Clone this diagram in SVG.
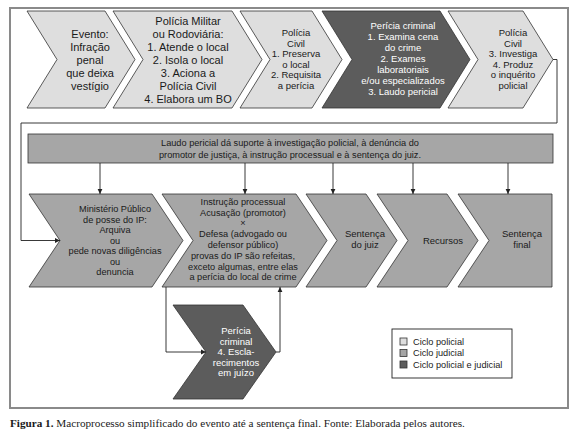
<svg xmlns="http://www.w3.org/2000/svg" width="577" height="435" viewBox="0 0 577 435">
<defs>
<style>
.light{fill:#dedede;stroke:#333;stroke-width:0.8}
.mid{fill:#a6a6a6;stroke:#333;stroke-width:0.8}
.dark{fill:#5c5c5c;stroke:#333;stroke-width:0.8}
text{font-family:"Liberation Sans",Arial,sans-serif;fill:#1a1a1a;text-anchor:middle}
.t11{font-size:11px}
.t95{font-size:9.5px}
.t9{font-size:9.2px}
.w{fill:#ffffff}
.conn{fill:none;stroke:#222;stroke-width:0.9}
.leg{text-anchor:start;font-size:9.2px}
</style>
<marker id="ah" markerUnits="userSpaceOnUse" markerWidth="6" markerHeight="6" refX="5" refY="3" orient="auto"><path d="M0,0.6 L5,3 L0,5.4 z" fill="#222"/></marker>
</defs>
<rect x="0" y="0" width="577" height="435" fill="#fff"/>
<rect x="10" y="8" width="558" height="400" fill="none" stroke="#8a8a8a" stroke-width="2"/>

<g id="evento">
<polygon class="light" points="27,11 105,11 135,59.5 105,108 27,108 57,59.5"/>
<text class="t11"><tspan x="90" y="37.5">Evento:</tspan><tspan x="90" y="50.5">Infração</tspan><tspan x="90" y="63.5">penal</tspan><tspan x="90" y="76.5">que deixa</tspan><tspan x="90" y="89.5">vestígio</tspan></text>
</g>
<g id="policia-militar">
<polygon class="light" points="113,11 232,11 262,59.5 232,108 113,108 143,59.5"/>
<text class="t11"><tspan x="188" y="24.5">Polícia Militar</tspan><tspan x="188" y="37.5">ou Rodoviária:</tspan><tspan x="188" y="50.5">1. Atende o local</tspan><tspan x="188" y="63.5">2. Isola o local</tspan><tspan x="188" y="76.5">3. Aciona a</tspan><tspan x="188" y="89.5">Polícia Civil</tspan><tspan x="188" y="102.5">4. Elabora um BO</tspan></text>
</g>
<g id="policia-civil-1">
<polygon class="light" points="240,11 312,11 342,59.5 312,108 240,108 270,59.5"/>
<text class="t95"><tspan x="296" y="36.4">Polícia</tspan><tspan x="296" y="46.9">Civil</tspan><tspan x="296" y="57.4">1. Preserva</tspan><tspan x="296" y="67.9">o local</tspan><tspan x="296" y="78.4">2. Requisita</tspan><tspan x="296" y="88.9">a perícia</tspan></text>
</g>
<g id="pericia-1">
<polygon class="dark" points="322,11 440,11 470,59.5 440,108 322,108 352,59.5"/>
<text class="t95 w"><tspan x="403" y="29.4">Perícia criminal</tspan><tspan x="403" y="40.4">1. Examina cena</tspan><tspan x="403" y="51.4">do crime</tspan><tspan x="403" y="62.4">2. Exames</tspan><tspan x="403" y="73.4">laboratoriais</tspan><tspan x="403" y="84.4">e/ou especializados</tspan><tspan x="403" y="95.4">3. Laudo pericial</tspan></text>
</g>
<g id="policia-civil-2">
<polygon class="light" points="448,11 523,11 553,59.5 523,108 448,108 478,59.5"/>
<text class="t95"><tspan x="513" y="36.4">Polícia</tspan><tspan x="513" y="46.9">Civil</tspan><tspan x="513" y="57.4">3. Investiga</tspan><tspan x="513" y="67.9">4. Produz</tspan><tspan x="513" y="78.4">o inquérito</tspan><tspan x="513" y="88.9">policial</tspan></text>
</g>

<g id="laudo">
<rect class="mid" x="28" y="134" width="525" height="29"/>
<text class="t9"><tspan x="290" y="146">Laudo pericial dá suporte à investigação policial, à denúncia do</tspan><tspan x="290" y="157.5">promotor de justiça, à instrução processual e à sentença do juiz.</tspan></text>
</g>

<g id="ministerio">
<polygon class="mid" points="29,194 152,194 183,240.5 152,287 29,287 60,240.5"/>
<text class="t9"><tspan x="115" y="212.2">Ministério Público</tspan><tspan x="115" y="222.7">de posse do IP:</tspan><tspan x="115" y="233.2">Arquiva</tspan><tspan x="115" y="243.7">ou</tspan><tspan x="115" y="254.2">pede novas diligências</tspan><tspan x="115" y="264.7">ou</tspan><tspan x="115" y="275.2">denuncia</tspan></text>
</g>
<g id="instrucao">
<polygon class="mid" points="162,194 296,194 327,240.5 296,287 162,287 193,240.5"/>
<text class="t9"><tspan x="243" y="204.7">Instrução processual</tspan><tspan x="243" y="215.5">Acusação (promotor)</tspan><tspan x="243" y="226.3">×</tspan><tspan x="243" y="237.1">Defesa (advogado ou</tspan><tspan x="243" y="247.9">defensor público)</tspan><tspan x="243" y="258.7">provas do IP são refeitas,</tspan><tspan x="243" y="269.5">exceto algumas, entre elas</tspan><tspan x="243" y="280.3">a perícia do local de crime</tspan></text>
</g>
<g id="sentenca-juiz">
<polygon class="mid" points="306,194 366,194 397,240.5 366,287 306,287 337,240.5"/>
<text class="t95"><tspan x="365" y="236.5">Sentença</tspan><tspan x="365" y="247.5">do juiz</tspan></text>
</g>
<g id="recursos">
<polygon class="mid" points="377,194 447,194 478,240.5 447,287 377,287 408,240.5"/>
<text class="t95" x="443" y="243.5">Recursos</text>
</g>
<g id="sentenca-final">
<polygon class="mid" points="458,194 552,194 552,287 458,287 489,240.5"/>
<text class="t95"><tspan x="522" y="236.5">Sentença</tspan><tspan x="522" y="247.5">final</tspan></text>
</g>
<g id="pericia-2">
<polygon class="dark" points="173,305 243,305 276,352 243,399 173,399 206,352"/>
<text class="t95 w"><tspan x="236" y="334.4">Perícia</tspan><tspan x="236" y="344.9">criminal</tspan><tspan x="236" y="355.4">4. Escla-</tspan><tspan x="236" y="365.9">recimentos</tspan><tspan x="236" y="376.4">em juízo</tspan></text>
</g>

<g id="connectors">
<path class="conn" d="M553,59.5 H557 V123 H21 V240.5 H60" marker-end="url(#ah)"/>
<path class="conn" d="M100,163 V194" marker-end="url(#ah)"/>
<path class="conn" d="M245,163 V194" marker-end="url(#ah)"/>
<path class="conn" d="M333,163 V194" marker-end="url(#ah)"/>
<path class="conn" d="M413,163 V194" marker-end="url(#ah)"/>
<path class="conn" d="M508,163 V194" marker-end="url(#ah)"/>
<path class="conn" d="M166,287 V352 H206" marker-end="url(#ah)"/>
<path class="conn" d="M276,352 H280 V287" marker-end="url(#ah)"/>
</g>

<g id="legend">
<rect x="392" y="329" width="120" height="49" fill="#fff" stroke="#222" stroke-width="0.9"/>
<rect class="light" x="400" y="338" width="7" height="7"/>
<rect class="mid" x="400" y="349.5" width="7" height="7"/>
<rect class="dark" x="400" y="361" width="7" height="7"/>
<text class="leg" x="413" y="344.8">Ciclo policial</text>
<text class="leg" x="413" y="356.3">Ciclo judicial</text>
<text class="leg" x="413" y="367.8">Ciclo policial e judicial</text>
</g>

<text x="10" y="427" style="font-family:'Liberation Serif','Times New Roman',serif;font-size:11.2px;text-anchor:start"><tspan font-weight="bold">Figura 1.</tspan> Macroprocesso simplificado do evento até a sentença final. Fonte: Elaborada pelos autores.</text>
</svg>
